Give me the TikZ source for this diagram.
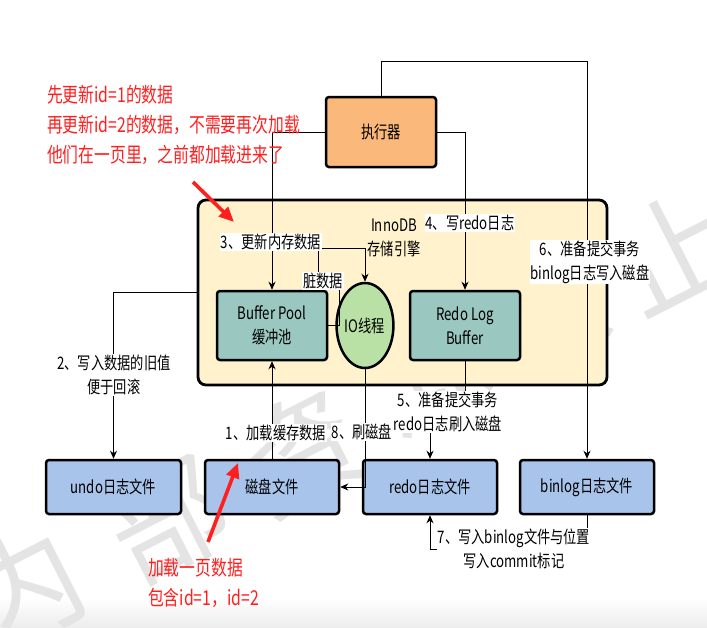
\documentclass[tikz,border=0pt]{standalone}
\usepackage{fontspec}
\newfontfamily\lblfont{Noto Sans CJK SC}[FakeStretch=0.77]
\newfontfamily\markfont{Noto Sans CJK SC}
\usetikzlibrary{arrows.meta,shapes.geometric}
\definecolor{execfill}{HTML}{FAB97B}
\definecolor{poolfill}{HTML}{9AC7BF}
\definecolor{iofill}{HTML}{B9E0A5}
\definecolor{filefill}{HTML}{A9C4EB}
\definecolor{enginefill}{HTML}{FFF2CC}
\definecolor{notered}{HTML}{FF1F1F}
\definecolor{markgray}{HTML}{E4E4E4}
\begin{document}
\begin{tikzpicture}[x=1pt,y=-1pt,
  txt/.style={font=\lblfont\fontsize{17.2}{24}\selectfont, align=center},
  box/.style={txt, draw=black, line width=2.5pt, rounded corners=3pt,
    minimum width=#1, inner sep=0pt},
  filebox/.style={box=134pt, fill=filefill, minimum height=54pt},
  membox/.style={box=110pt, fill=poolfill, minimum height=69pt},
  lbl/.style={txt, fill=white, inner sep=1pt},
  arr/.style={-{Stealth[length=8pt,width=7pt,inset=2.5pt]}, line width=0.9pt},
  note/.style={font=\lblfont\fontsize{20.5}{30}\selectfont, text=notered, align=left, inner sep=0pt},
  notearrow/.style={notered, line width=3.6pt, -{Triangle[length=15pt,width=13pt]}},
  wmglyph/.style={font=\markfont\fontsize{118}{118}\selectfont, text=markgray, rotate=27, inner sep=0pt}
]
\useasboundingbox (0,0) rectangle (707,627);
\fill[white] (0,0) rectangle (707,627);
\shade[top color=white, bottom color=black!7] (0,598) rectangle (707,627);

% faint background mark
\node[wmglyph] (m1) at (22,590) {内};
\node[wmglyph] (m2) at (168,518) {部};
\node[wmglyph] (m3) at (300,452) {资};
\node[wmglyph] (m4) at (428,372) {源};
\node[wmglyph] (m5) at (548,310) {禁};
\node[wmglyph] (m6) at (672,250) {止};

% storage engine container
\node[draw=black, line width=2.8pt, rounded corners=8pt, fill=enginefill,
  minimum width=409pt, minimum height=185pt] (engine) at (402.5,292.5) {};

% executor and memory structures
\node[box=110pt, fill=execfill, minimum height=70pt] (exec) at (381,132) {执行器};
\node[membox] (BP) at (272,325.5) {Buffer Pool\\缓冲池};
\node[membox] (RLB) at (465,325.5) {Redo Log\\Buffer};
\node[txt, ellipse, draw=black, line width=2.5pt, fill=iofill,
  minimum width=54pt, minimum height=85pt, inner sep=0pt] (IO) at (365,325.5) {IO线程};
\node[txt, inner sep=0pt] (inno) at (394,238) {InnoDB\\存储引擎};

% files on disk
\node[filebox, minimum width=135pt] (undo) at (113.5,487) {undo日志文件};
\node[filebox] (disk) at (272,487) {磁盘文件};
\node[filebox] (redo) at (430,487) {redo日志文件};
\node[filebox] (binlog) at (587,487) {binlog日志文件};

% connectors
\draw[arr] (disk.north) -- (BP.south);
\draw[arr] (engine.west) -| (undo.north);
\draw[arr] (exec.west) -| (BP.north);
\draw[arr] (exec.east) -| (RLB.north);
\draw[arr] (RLB.south) -- ++(0,52) -| (redo.north);
\draw[arr] (exec.north) -- ++(0,-34) -| (binlog.north);
\draw[arr] (binlog.south) -- ++(0,34) -| (redo.south);
\draw[arr] (IO.south) |- (disk.east);
\draw[arr] (BP.east) -- ++(11,0) -- ++(0,-46) -- ++(-21,0) -- ++(0,-31) -| (IO.north);

% connector labels
\node[lbl] (l1) at (276,433) {1、加载缓存数据};
\node[lbl] (l2) at (114,375) {2、写入数据的旧值\\便于回滚};
\node[lbl] (l3) at (271,242) {3、更新内存数据};
\node[lbl] (l4) at (470,223) {4、写redo日志};
\node[lbl] (l5) at (448,412) {5、准备提交事务\\redo日志刷入磁盘};
\node[lbl] (l6) at (590,262) {6、准备提交事务\\binlog日志写入磁盘};
\node[lbl] (l7) at (514,549) {7、写入binlog文件与位置\\写入commit标记};
\node[lbl] (l8) at (362,432) {8、刷磁盘};
\node[lbl] (dirty) at (323,281) {脏数据};

% red notes
\node[note, anchor=west] (n1) at (47,125) {先更新id=1的数据\\再更新id=2的数据，不需要再次加载\\他们在一页里，之前都加载进来了};
\coordinate (n1s) at (193,182);
\coordinate (n1e) at (234,222);
\draw[notearrow] (n1s) -- (n1e);
\node[note, anchor=west] (n2) at (148,583) {加载一页数据\\包含id=1，id=2};
\coordinate (n2s) at (208,542);
\coordinate (n2e) at (238,463);
\draw[notearrow] (n2s) -- (n2e);
\end{tikzpicture}
\end{document}
